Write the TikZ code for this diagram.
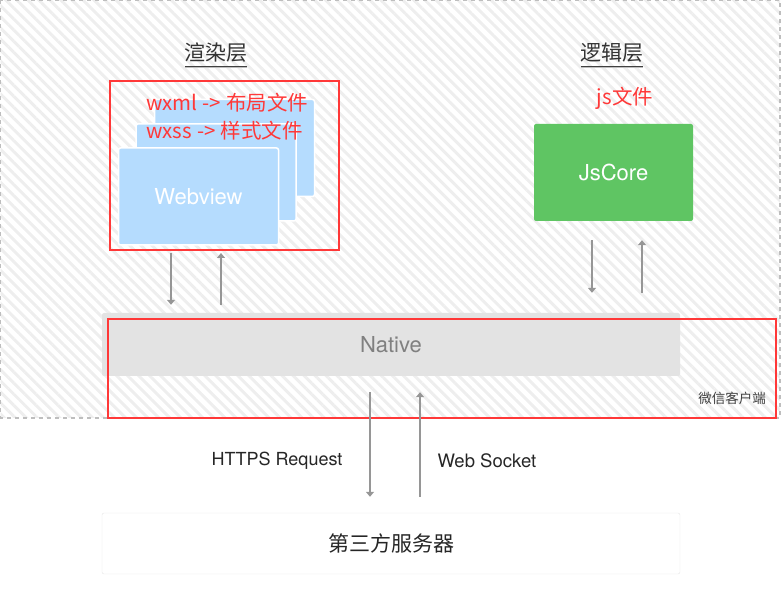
\documentclass[tikz,border=0pt]{standalone}
\usepackage{fontspec}
\setmainfont{TeX Gyre Heros}
\newfontfamily\cjk{Noto Sans CJK SC}
\usepackage{tikz}
\usetikzlibrary{patterns.meta,arrows.meta}
\definecolor{hatch gray}{RGB}{238,238,238}
\definecolor{frame gray}{RGB}{190,190,190}
\definecolor{mark red}{RGB}{255,56,56}
\definecolor{web blue}{RGB}{181,220,254}
\definecolor{core green}{RGB}{95,197,99}
\definecolor{native gray}{RGB}{227,227,227}
\definecolor{arrow gray}{RGB}{150,150,150}

\tikzset{
  layertitle/.style={text=black!80, font=\cjk\fontsize{21}{23}\selectfont},
  redlabel/.style={text=mark red, font=\cjk\fontsize{20.5}{22}\selectfont},
  redbox/.style={draw=mark red, line width=2.8pt},
  card/.style={draw=white, line width=1.5pt, fill=web blue, rounded corners=2pt,
    minimum width=160pt, minimum height=97pt},
  bar/.style={minimum width=578pt, rounded corners=2pt, font=\fontsize{22}{24}\selectfont},
  flow/.style={draw=arrow gray, line width=1.3pt, -{Triangle[length=5pt,width=8pt]}}
}

\begin{document}
\begin{tikzpicture}[x=1pt, y=-1pt]
			\useasboundingbox (0,0) rectangle (782,601);
			% client area
			\begin{scope}
				\fill[pattern={Lines[angle=-45, distance=7.8pt, line width=3pt]}, pattern color=hatch gray]
					(0.5,0.5) rectangle (780,418);
				\draw[frame gray, line width=1.2pt, dash pattern=on 4pt off 4pt] (0.5,0.5) rectangle (780,418);
			\end{scope}
			% render layer
			\node[layertitle] (render) at (216,53) {渲染层};
			\draw[black!75, line width=1pt] (185,66.5) -- (247,66.5);
			\draw[black!25, line width=1pt] (185,68) -- (247,68);
			\node[card] (backcard) at (234.5,148) {};
			\node[card] (midcard) at (216,172.5) {};
			\node[card, text=white, font=\fontsize{22}{24}\selectfont] (webview) at (198.5,196.5) {Webview};
			\node[redlabel, anchor=west, inner sep=0pt] (wxml) at (146,103) {wxml\hspace{5pt}->\hspace{5pt}布局文件};
			\node[redlabel, anchor=west, inner sep=0pt] (wxss) at (146,131) {wxss\hspace{5pt}->\hspace{5pt}样式文件};
			\draw[redbox] (110,81) rectangle (339,250);
			\coordinate (renderbox) at (224.5,250);
			% logic layer
			\node[layertitle] (logic) at (612,53) {逻辑层};
			\draw[black!75, line width=1pt] (581,66.5) -- (643,66.5);
			\draw[black!25, line width=1pt] (581,68) -- (643,68);
			\node[redlabel] (jsfile) at (625,98) {js文件};
			\node[fill=core green, rounded corners=2pt, minimum width=159pt, minimum height=97pt,
				text=white, font=\fontsize{22}{24}\selectfont] (jscore) at (613.5,172.5) {JsCore};
			% native
			\node[bar, fill=native gray, minimum height=63pt, text=black!50] (native) at (391,344.5) {Native};
			\draw[redbox] (108,319) rectangle (776,418);
			\node[text=black!75, font=\cjk\fontsize{13.5}{15}\selectfont] (client) at (732,398) {微信客户端};
			% server
			\node[bar, draw=black!10, fill=white, minimum height=61pt, font=\cjk\fontsize{21}{23}\selectfont,
				text=black!85] (server) at (391,543.5) {第三方服务器};
			% arrows
			\draw[flow, shorten <=3pt, shorten >=8pt] (171,0 |- renderbox) -- (171,0 |- native.north);
			\draw[flow, shorten <=8pt, shorten >=3pt] (221,0 |- native.north) -- (221,0 |- renderbox);
			\draw[flow, shorten <=19pt, shorten >=20pt] (592,0 |- jscore.south) -- (592,0 |- native.north);
			\draw[flow, shorten <=20pt, shorten >=19pt] (642,0 |- native.north) -- (642,0 |- jscore.south);
			\draw[flow, shorten <=16pt, shorten >=16pt] (370,0 |- native.south) -- (370,0 |- server.north);
			\draw[flow, shorten <=16pt, shorten >=16pt] (420,0 |- server.north) -- (420,0 |- native.south);
			\node[anchor=east, text=black!85, font=\fontsize{18}{20}\selectfont] (https) at (346,461) {HTTPS Request};
			\node[anchor=west, text=black!85, font=\fontsize{18.5}{20}\selectfont] (socket) at (434,461) {Web Socket};
		\end{tikzpicture}
\end{document}
